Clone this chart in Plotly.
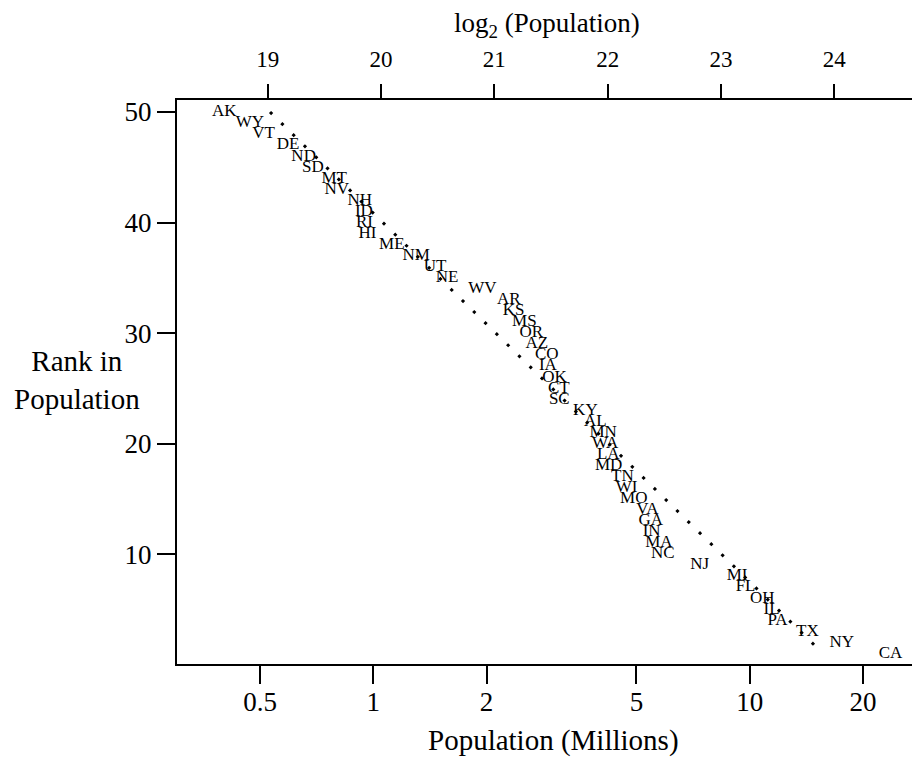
import plotly.graph_objects as go

# state abbreviations, ordered by rank (1 = largest)
states = ["CA", "NY", "TX", "PA", "IL", "OH", "FL", "MI", "NJ", "NC",
          "MA", "IN", "GA", "VA", "MO", "WI", "TN", "MD", "LA", "WA",
          "MN", "AL", "KY", "SC", "CT", "OK", "IA", "CO", "AZ", "OR",
          "MS", "KS", "AR", "WV", "NE", "UT", "NM", "ME", "HI", "RI",
          "ID", "NH", "NV", "MT", "SD", "ND", "DE", "VT", "WY", "AK"]

# population in millions
pop_millions = [23.67, 17.56, 14.23, 11.86, 11.43, 10.80, 9.75, 9.26, 7.36, 5.88,
                5.74, 5.49, 5.46, 5.35, 4.92, 4.71, 4.59, 4.22, 4.21, 4.13,
                4.08, 3.89, 3.66, 3.12, 3.11, 3.03, 2.91, 2.89, 2.72, 2.63,
                2.52, 2.36, 2.29, 1.95, 1.57, 1.46, 1.30, 1.12, 0.965, 0.947,
                0.944, 0.921, 0.800, 0.787, 0.691, 0.653, 0.594, 0.511, 0.470, 0.402]

rank = [1, 2, 3, 4, 5, 6, 7, 8, 9, 10,
        11, 12, 13, 14, 15, 16, 17, 18, 19, 20,
        21, 22, 23, 24, 25, 26, 27, 28, 29, 30,
        31, 32, 33, 34, 35, 36, 37, 38, 39, 40,
        41, 42, 43, 44, 45, 46, 47, 48, 49, 50]

# dotted reference line, in log2(population) units
ref_log2 = [19.02, 23.90]
ref_rank = [50.0, 1.0]

bottom_ticks = [0.5, 1, 2, 5, 10, 20]
bottom_labels = ["0.5", "1", "2", "5", "10", "20"]
top_ticks = [19, 20, 21, 22, 23, 24]

FONT = "Liberation Serif"

fig = go.Figure()

fig.add_trace(go.Scatter(
    x=ref_log2, y=ref_rank, xaxis="x2", yaxis="y",
    mode="lines",
    line=dict(color="black", width=3, dash="3px,12.8px"),
    hoverinfo="skip", showlegend=False
))

fig.add_trace(go.Scatter(
    x=pop_millions, y=rank,
    mode="text", text=states,
    textposition="middle center",
    textfont=dict(family=FONT, size=17, color="black"),
    showlegend=False
))

line_style = dict(
    showgrid=False, zeroline=False, showline=True, linecolor="black",
    linewidth=2, ticks="outside", tickwidth=2, tickcolor="black",
)

fig.update_layout(
    width=920, height=758,
    margin=dict(l=169, r=8, t=92, b=102),
    paper_bgcolor="white", plot_bgcolor="white",
    xaxis=dict(type="log", range=[-0.5216, 1.4525],
               tickvals=bottom_ticks, ticktext=bottom_labels,
               ticklen=18, ticklabelstandoff=-5,
               tickfont=dict(family=FONT, size=27, color="black"),
               **line_style),
    xaxis2=dict(overlaying="x", side="top", range=[18.199, 24.757],
                tickvals=top_ticks, ticklen=14, ticklabelstandoff=8,
                tickfont=dict(family=FONT, size=23, color="black"),
                **line_style),
    yaxis=dict(range=[0.05, 51.09], tickvals=[10, 20, 30, 40, 50],
               ticklen=18,
               tickfont=dict(family=FONT, size=27, color="black"),
               **line_style),
    annotations=[
        dict(text="Population (Millions)", xref="paper", yref="paper",
             x=0.507, y=-0.135, xanchor="center", yanchor="middle",
             showarrow=False, font=dict(family=FONT, size=29, color="black")),
        dict(text="log<sub>2</sub> (Population)", xref="paper", yref="paper",
             x=0.498, y=1.133, xanchor="center", yanchor="middle",
             showarrow=False, font=dict(family=FONT, size=27, color="black")),
        dict(text="Rank in<br>Population", xref="paper", yref="paper",
             x=-0.1346, y=0.5035, xanchor="center", yanchor="middle",
             showarrow=False, align="center",
             font=dict(family=FONT, size=29, color="black")),
    ],
)

fig.write_html("out.html")
